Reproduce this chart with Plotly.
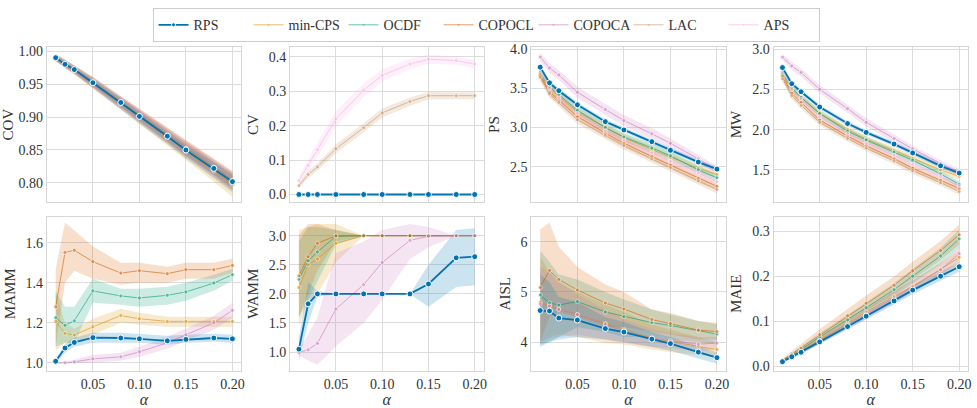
import plotly.graph_objects as go

ALPHA = [0.01, 0.02, 0.03, 0.05, 0.08, 0.10, 0.13, 0.15, 0.18, 0.20]
METHODS = ["RPS", "min-CPS", "OCDF", "COPOCL", "COPOCA", "LAC", "APS"]
COLORS = {"RPS": "#0173b2", "min-CPS": "#de8f05", "OCDF": "#029e73", "COPOCL": "#d55e00",
          "COPOCA": "#cc78bc", "LAC": "#ca9161", "APS": "#fbafe4"}

X_TICKS = [0.05, 0.10, 0.15, 0.20]
X_TICKTEXT = ["0.05", "0.10", "0.15", "0.20"]

# ---- COV ----
COV_MEAN = {
    "RPS":     [0.990, 0.980, 0.972, 0.952, 0.922, 0.901, 0.871, 0.850, 0.822, 0.802],
    "min-CPS": [0.990, 0.980, 0.971, 0.951, 0.920, 0.900, 0.869, 0.848, 0.818, 0.797],
    "OCDF":    [0.990, 0.981, 0.972, 0.952, 0.921, 0.900, 0.870, 0.849, 0.820, 0.800],
    "COPOCL":  [0.991, 0.981, 0.972, 0.953, 0.923, 0.903, 0.873, 0.853, 0.824, 0.804],
    "COPOCA":  [0.990, 0.980, 0.971, 0.951, 0.921, 0.901, 0.871, 0.851, 0.822, 0.802],
    "LAC":     [0.990, 0.981, 0.972, 0.952, 0.922, 0.902, 0.872, 0.852, 0.823, 0.803],
    "APS":     [0.991, 0.981, 0.972, 0.952, 0.922, 0.902, 0.872, 0.851, 0.822, 0.802],
}
COV_ERR = {
    "RPS":     [0.003, 0.004, 0.004, 0.005, 0.006, 0.007, 0.008, 0.008, 0.009, 0.010],
    "min-CPS": [0.005, 0.006, 0.006, 0.008, 0.009, 0.010, 0.012, 0.013, 0.016, 0.018],
    "OCDF":    [0.005, 0.006, 0.006, 0.008, 0.009, 0.010, 0.011, 0.012, 0.013, 0.014],
    "COPOCL":  [0.005, 0.006, 0.006, 0.008, 0.009, 0.010, 0.011, 0.012, 0.013, 0.014],
    "COPOCA":  [0.005, 0.006, 0.006, 0.008, 0.009, 0.010, 0.011, 0.012, 0.013, 0.014],
    "LAC":     [0.005, 0.006, 0.006, 0.008, 0.009, 0.010, 0.011, 0.012, 0.013, 0.014],
    "APS":     [0.005, 0.006, 0.006, 0.008, 0.009, 0.010, 0.011, 0.012, 0.013, 0.014],
}

# ---- CV ----
CV_MEAN = {
    "RPS":     [0, 0, 0, 0, 0, 0, 0, 0, 0, 0],
    "min-CPS": [0, 0, 0, 0, 0, 0, 0, 0, 0, 0],
    "OCDF":    [0, 0, 0, 0, 0, 0, 0, 0, 0, 0],
    "COPOCL":  [0, 0, 0, 0, 0, 0, 0, 0, 0, 0],
    "COPOCA":  [0, 0, 0, 0, 0, 0, 0, 0, 0, 0],
    "LAC":     [0.026, 0.058, 0.080, 0.133, 0.194, 0.237, 0.270, 0.287, 0.287, 0.287],
    "APS":     [0.040, 0.085, 0.130, 0.220, 0.303, 0.346, 0.379, 0.393, 0.389, 0.379],
}
CV_ERR = {
    "RPS":     [0, 0, 0, 0, 0, 0, 0, 0, 0, 0],
    "min-CPS": [0, 0, 0, 0, 0, 0, 0, 0, 0, 0],
    "OCDF":    [0, 0, 0, 0, 0, 0, 0, 0, 0, 0],
    "COPOCL":  [0, 0, 0, 0, 0, 0, 0, 0, 0, 0],
    "COPOCA":  [0, 0, 0, 0, 0, 0, 0, 0, 0, 0],
    "LAC":     [0.008, 0.010, 0.011, 0.013, 0.013, 0.013, 0.012, 0.011, 0.010, 0.010],
    "APS":     [0.012, 0.016, 0.020, 0.022, 0.020, 0.018, 0.015, 0.013, 0.012, 0.012],
}

# ---- PS ----
PS_MEAN = {
    "RPS":     [3.77, 3.57, 3.47, 3.29, 3.075, 2.97, 2.82, 2.71, 2.56, 2.47],
    "min-CPS": [3.68, 3.50, 3.40, 3.20, 3.00, 2.87, 2.72, 2.62, 2.48, 2.40],
    "OCDF":    [3.70, 3.52, 3.42, 3.22, 3.00, 2.88, 2.74, 2.64, 2.46, 2.36],
    "COPOCL":  [3.66, 3.45, 3.35, 3.14, 2.93, 2.80, 2.63, 2.52, 2.35, 2.25],
    "COPOCA":  [3.90, 3.76, 3.67, 3.45, 3.23, 3.09, 2.92, 2.80, 2.60, 2.46],
    "LAC":     [3.64, 3.43, 3.32, 3.10, 2.90, 2.77, 2.60, 2.49, 2.32, 2.21],
    "APS":     [3.72, 3.50, 3.38, 3.18, 2.96, 2.84, 2.68, 2.57, 2.42, 2.31],
}
PS_ERR = {
    "RPS":     [0.03, 0.03, 0.03, 0.03, 0.03, 0.03, 0.03, 0.03, 0.03, 0.03],
    "min-CPS": [0.05, 0.05, 0.05, 0.05, 0.05, 0.05, 0.05, 0.05, 0.05, 0.05],
    "OCDF":    [0.05, 0.05, 0.05, 0.05, 0.05, 0.05, 0.05, 0.05, 0.05, 0.05],
    "COPOCL":  [0.05, 0.05, 0.05, 0.05, 0.05, 0.05, 0.05, 0.05, 0.05, 0.05],
    "COPOCA":  [0.05, 0.06, 0.06, 0.07, 0.07, 0.07, 0.07, 0.06, 0.05, 0.05],
    "LAC":     [0.05, 0.05, 0.05, 0.05, 0.05, 0.05, 0.05, 0.05, 0.05, 0.05],
    "APS":     [0.05, 0.05, 0.05, 0.05, 0.05, 0.05, 0.05, 0.05, 0.05, 0.05],
}

# ---- MW ----
MW_MEAN = {
    "RPS":     [2.77, 2.57, 2.47, 2.28, 2.075, 1.965, 1.82, 1.71, 1.55, 1.46],
    "min-CPS": [2.68, 2.50, 2.40, 2.20, 2.00, 1.88, 1.74, 1.64, 1.50, 1.42],
    "OCDF":    [2.70, 2.52, 2.40, 2.20, 1.98, 1.87, 1.72, 1.62, 1.45, 1.32],
    "COPOCL":  [2.66, 2.45, 2.34, 2.12, 1.92, 1.80, 1.64, 1.52, 1.37, 1.27],
    "COPOCA":  [2.90, 2.79, 2.71, 2.50, 2.26, 2.09, 1.89, 1.76, 1.58, 1.47],
    "LAC":     [2.63, 2.42, 2.30, 2.09, 1.89, 1.77, 1.61, 1.49, 1.34, 1.23],
    "APS":     [2.72, 2.50, 2.38, 2.16, 1.95, 1.83, 1.68, 1.57, 1.42, 1.30],
}
MW_ERR = {
    "RPS":     [0.03, 0.03, 0.03, 0.03, 0.03, 0.03, 0.03, 0.03, 0.03, 0.03],
    "min-CPS": [0.04, 0.04, 0.04, 0.04, 0.04, 0.04, 0.04, 0.04, 0.04, 0.04],
    "OCDF":    [0.04, 0.04, 0.04, 0.04, 0.04, 0.04, 0.04, 0.04, 0.04, 0.04],
    "COPOCL":  [0.04, 0.04, 0.04, 0.04, 0.04, 0.04, 0.04, 0.04, 0.04, 0.04],
    "COPOCA":  [0.04, 0.05, 0.05, 0.05, 0.05, 0.05, 0.05, 0.04, 0.04, 0.04],
    "LAC":     [0.04, 0.04, 0.04, 0.04, 0.04, 0.04, 0.04, 0.04, 0.04, 0.04],
    "APS":     [0.04, 0.04, 0.04, 0.04, 0.04, 0.04, 0.04, 0.04, 0.04, 0.04],
}

# ---- MAMM ----
MAMM_MEAN = {
    "RPS":     [1.008, 1.074, 1.102, 1.126, 1.124, 1.120, 1.110, 1.117, 1.124, 1.120],
    "min-CPS": [1.207, 1.147, 1.139, 1.180, 1.236, 1.220, 1.207, 1.207, 1.207, 1.207],
    "OCDF":    [1.225, 1.187, 1.210, 1.359, 1.334, 1.324, 1.337, 1.354, 1.398, 1.440],
    "COPOCL":  [1.280, 1.551, 1.562, 1.505, 1.448, 1.460, 1.445, 1.465, 1.465, 1.486],
    "COPOCA":  [1.000, 1.000, 1.005, 1.020, 1.030, 1.055, 1.100, 1.140, 1.200, 1.262],
}
MAMM_LO = {
    "RPS":     [1.000, 1.050, 1.080, 1.100, 1.100, 1.100, 1.090, 1.100, 1.105, 1.100],
    "min-CPS": [1.060, 1.100, 1.100, 1.140, 1.200, 1.190, 1.180, 1.180, 1.180, 1.180],
    "OCDF":    [1.080, 1.100, 1.100, 1.300, 1.290, 1.280, 1.290, 1.310, 1.360, 1.410],
    "COPOCL":  [1.080, 1.400, 1.460, 1.420, 1.390, 1.400, 1.400, 1.420, 1.420, 1.450],
    "COPOCA":  [0.995, 0.995, 0.995, 1.000, 1.010, 1.030, 1.070, 1.110, 1.165, 1.225],
}
MAMM_HI = {
    "RPS":     [1.015, 1.095, 1.125, 1.150, 1.150, 1.145, 1.135, 1.140, 1.145, 1.140],
    "min-CPS": [1.350, 1.200, 1.170, 1.220, 1.270, 1.250, 1.230, 1.230, 1.230, 1.230],
    "OCDF":    [1.360, 1.280, 1.280, 1.420, 1.370, 1.370, 1.380, 1.400, 1.440, 1.470],
    "COPOCL":  [1.470, 1.700, 1.660, 1.580, 1.500, 1.500, 1.480, 1.500, 1.500, 1.520],
    "COPOCA":  [1.005, 1.005, 1.015, 1.040, 1.050, 1.080, 1.130, 1.170, 1.235, 1.300],
}

# ---- WAMM ----
WAMM_MEAN = {
    "RPS":     [1.05, 1.83, 2.00, 2.00, 2.00, 2.00, 2.00, 2.17, 2.62, 2.64],
    "min-CPS": [2.11, 2.50, 2.60, 2.87, 3.00, 3.00, 3.00, 3.00, 3.00, 3.00],
    "OCDF":    [2.25, 2.57, 2.72, 2.99, 3.00, 3.00, 3.00, 3.00, 3.00, 3.00],
    "COPOCL":  [2.31, 2.64, 2.87, 3.00, 3.00, 3.00, 3.00, 3.00, 3.00, 3.00],
    "COPOCA":  [0.99, 1.04, 1.15, 1.74, 2.16, 2.54, 2.92, 2.99, 3.00, 3.00],
}
WAMM_LO = {
    "RPS":     [0.85, 1.50, 1.95, 2.00, 2.00, 2.00, 2.00, 1.78, 2.12, 2.15],
    "min-CPS": [1.45, 1.90, 2.00, 2.55, 3.00, 3.00, 3.00, 3.00, 3.00, 3.00],
    "OCDF":    [1.60, 1.90, 2.20, 2.85, 3.00, 3.00, 3.00, 3.00, 3.00, 3.00],
    "COPOCL":  [1.60, 2.00, 2.40, 2.90, 3.00, 3.00, 3.00, 3.00, 3.00, 3.00],
    "COPOCA":  [0.95, 0.85, 0.78, 1.10, 1.50, 1.90, 2.60, 2.80, 3.00, 3.00],
}
WAMM_HI = {
    "RPS":     [1.25, 2.20, 2.05, 2.00, 2.00, 2.00, 2.00, 2.50, 3.10, 3.13],
    "min-CPS": [3.10, 3.15, 3.20, 3.20, 3.00, 3.00, 3.00, 3.00, 3.00, 3.00],
    "OCDF":    [2.90, 3.15, 3.15, 3.10, 3.00, 3.00, 3.00, 3.00, 3.00, 3.00],
    "COPOCL":  [3.00, 3.20, 3.20, 3.10, 3.00, 3.00, 3.00, 3.00, 3.00, 3.00],
    "COPOCA":  [1.05, 1.30, 1.60, 2.70, 2.90, 3.10, 3.20, 3.15, 3.00, 3.00],
}

# ---- AISL ----
AISL_MEAN = {
    "RPS":     [4.63, 4.62, 4.48, 4.44, 4.27, 4.20, 4.06, 3.97, 3.80, 3.69],
    "min-CPS": [4.80, 4.73, 4.66, 4.55, 4.37, 4.25, 4.08, 4.01, 3.92, 3.85],
    "OCDF":    [4.94, 4.78, 4.74, 4.81, 4.60, 4.51, 4.39, 4.33, 4.23, 4.16],
    "COPOCL":  [5.09, 5.43, 5.25, 5.04, 4.78, 4.66, 4.45, 4.37, 4.24, 4.21],
    "COPOCA":  [4.76, 4.72, 4.65, 4.55, 4.35, 4.22, 4.08, 4.03, 3.96, 3.98],
}
AISL_LO = {
    "RPS":     [3.90, 4.00, 4.05, 4.10, 4.05, 4.00, 3.90, 3.83, 3.67, 3.57],
    "min-CPS": [4.00, 4.10, 4.15, 4.10, 3.98, 3.95, 3.85, 3.80, 3.75, 3.70],
    "OCDF":    [3.95, 4.00, 4.10, 4.30, 4.20, 4.10, 4.10, 4.05, 4.00, 3.95],
    "COPOCL":  [4.00, 4.50, 4.60, 4.50, 4.30, 4.30, 4.20, 4.15, 4.05, 4.05],
    "COPOCA":  [3.95, 4.05, 4.10, 4.15, 4.05, 3.98, 3.90, 3.88, 3.82, 3.85],
}
AISL_HI = {
    "RPS":     [5.35, 5.20, 4.90, 4.80, 4.50, 4.40, 4.20, 4.10, 3.92, 3.80],
    "min-CPS": [5.70, 5.40, 5.20, 5.00, 4.75, 4.60, 4.35, 4.25, 4.10, 4.00],
    "OCDF":    [5.82, 5.60, 5.35, 5.25, 5.00, 4.85, 4.65, 4.55, 4.42, 4.36],
    "COPOCL":  [6.25, 6.38, 5.90, 5.50, 5.15, 5.00, 4.65, 4.58, 4.42, 4.38],
    "COPOCA":  [5.50, 5.40, 5.20, 4.95, 4.65, 4.46, 4.26, 4.18, 4.10, 4.10],
}

# ---- MAIE ----
MAIE_MEAN = {
    "RPS":     [0.010, 0.021, 0.031, 0.054, 0.088, 0.111, 0.145, 0.169, 0.200, 0.221],
    "min-CPS": [0.011, 0.022, 0.034, 0.058, 0.095, 0.120, 0.155, 0.178, 0.215, 0.242],
    "OCDF":    [0.012, 0.025, 0.037, 0.065, 0.103, 0.130, 0.170, 0.200, 0.245, 0.283],
    "COPOCL":  [0.013, 0.027, 0.040, 0.070, 0.112, 0.140, 0.180, 0.212, 0.257, 0.292],
    "COPOCA":  [0.010, 0.021, 0.032, 0.056, 0.092, 0.116, 0.152, 0.176, 0.214, 0.250],
}
MAIE_ERR = {
    "RPS":     [0.002, 0.003, 0.004, 0.005, 0.006, 0.007, 0.008, 0.009, 0.010, 0.011],
    "min-CPS": [0.003, 0.004, 0.005, 0.007, 0.009, 0.010, 0.012, 0.013, 0.015, 0.016],
    "OCDF":    [0.003, 0.005, 0.006, 0.008, 0.011, 0.012, 0.014, 0.016, 0.018, 0.020],
    "COPOCL":  [0.004, 0.006, 0.008, 0.012, 0.015, 0.017, 0.019, 0.020, 0.021, 0.022],
    "COPOCA":  [0.003, 0.005, 0.006, 0.008, 0.010, 0.011, 0.012, 0.013, 0.014, 0.015],
}

# ---- axis settings per panel ----
PANEL_TITLES = ["COV", "CV", "PS", "MW", "MAMM", "WAMM", "AISL", "MAIE"]
Y_RANGES = [[0.771, 1.006], [-0.022, 0.428], [2.05, 4.025], [1.10, 3.024],
            [0.961, 1.729], [0.68, 3.326], [3.43, 6.50], [-0.010, 0.332]]
Y_TICKS = [[0.80, 0.85, 0.90, 0.95, 1.00], [0.0, 0.1, 0.2, 0.3, 0.4], [2.5, 3.0, 3.5, 4.0],
           [1.5, 2.0, 2.5, 3.0], [1.0, 1.2, 1.4, 1.6], [1.0, 1.5, 2.0, 2.5, 3.0],
           [4, 5, 6], [0.0, 0.1, 0.2, 0.3]]
Y_TICKTEXT = [["0.80", "0.85", "0.90", "0.95", "1.00"], ["0.0", "0.1", "0.2", "0.3", "0.4"],
              ["2.5", "3.0", "3.5", "4.0"], ["1.5", "2.0", "2.5", "3.0"],
              ["1.0", "1.2", "1.4", "1.6"], ["1.0", "1.5", "2.0", "2.5", "3.0"],
              ["4", "5", "6"], ["0.0", "0.1", "0.2", "0.3"]]


def sym(mean, err):
    lo = {k: [m - e for m, e in zip(mean[k], err[k])] for k in mean}
    hi = {k: [m + e for m, e in zip(mean[k], err[k])] for k in mean}
    return mean, lo, hi


PANELS = [sym(COV_MEAN, COV_ERR), sym(CV_MEAN, CV_ERR), sym(PS_MEAN, PS_ERR), sym(MW_MEAN, MW_ERR),
          (MAMM_MEAN, MAMM_LO, MAMM_HI), (WAMM_MEAN, WAMM_LO, WAMM_HI),
          (AISL_MEAN, AISL_LO, AISL_HI), sym(MAIE_MEAN, MAIE_ERR)]

W, H = 977, 408
COL_PX = [(47, 242), (291, 485), (533, 728), (776, 971)]
ROW_PX = [(43, 201), (216, 373)]


def rgba(hexc, a):
    h = hexc.lstrip("#")
    return "rgba(%d,%d,%d,%.3f)" % (int(h[0:2], 16), int(h[2:4], 16), int(h[4:6], 16), a)


FONT = "Liberation Serif, DejaVu Serif, serif"
TXT = "#333333"
fig = go.Figure()

for i, (mean, lo, hi) in enumerate(PANELS):
    ax = "" if i == 0 else str(i + 1)
    xref, yref = "x" + ax, "y" + ax
    order = [m for m in METHODS if m in mean and m != "RPS"] + ["RPS"]
    for m in order:
        c = COLORS[m]
        fig.add_trace(go.Scatter(x=ALPHA + ALPHA[::-1], y=hi[m] + lo[m][::-1], fill="toself",
                                 fillcolor=rgba(c, 0.2), line=dict(width=0), mode="lines",
                                 hoverinfo="skip", showlegend=False, xaxis=xref, yaxis=yref))
    for m in order:
        c = COLORS[m]
        if m == "RPS":
            line = dict(color=c, width=1.8)
            marker = dict(size=6, color=c, line=dict(color="white", width=1))
            op = 1.0
        else:
            line = dict(color=c, width=1.0)
            marker = dict(size=4, color=c, line=dict(color="white", width=0.8))
            op = 0.6
        fig.add_trace(go.Scatter(x=ALPHA, y=mean[m], mode="lines+markers", name=m,
                                 line=line, marker=marker, opacity=op,
                                 showlegend=False, xaxis=xref, yaxis=yref))

for m in METHODS:
    c = COLORS[m]
    if m == "RPS":
        line = dict(color=c, width=1.8); marker = dict(size=4, color=c, line=dict(color="white", width=1)); op = 1
    else:
        line = dict(color=c, width=1.0); marker = dict(size=2, color=c); op = 0.6
    fig.add_trace(go.Scatter(x=[None], y=[None], mode="lines+markers", name=m, line=line,
                             marker=marker, opacity=op, showlegend=True, xaxis="x", yaxis="y"))

layout = dict(
    width=W, height=H, margin=dict(l=0, r=0, t=0, b=0),
    paper_bgcolor="white", plot_bgcolor="white",
    font=dict(family=FONT, size=12, color=TXT),
    legend=dict(orientation="h", x=0.499, xanchor="center", y=0.992, yanchor="top",
                bordercolor="#cccccc", borderwidth=1, bgcolor="white",
                font=dict(family=FONT, size=14, color=TXT), itemwidth=30,
                entrywidth=50, tracegroupgap=0),
)
for i in range(8):
    r, c = divmod(i, 4)
    ax = "" if i == 0 else str(i + 1)
    x0, x1 = COL_PX[c]
    y0, y1 = ROW_PX[r]
    xa = dict(domain=[x0 / W, x1 / W], anchor="y" + ax, range=[0.0005, 0.2095],
              tickvals=X_TICKS, ticktext=X_TICKTEXT, showticklabels=(r == 1),
              showgrid=True, gridcolor="#dcdcdc", gridwidth=1, zeroline=False,
              showline=True, mirror=True, linecolor="#d6d6d6", linewidth=1.2,
              ticks="", tickfont=dict(family=FONT, size=14, color=TXT))
    if r == 1:
        xa["title"] = dict(text="<i>α</i>", font=dict(family=FONT, size=16, color=TXT), standoff=2)
    ya = dict(domain=[1 - y1 / H, 1 - y0 / H], anchor="x" + ax, range=Y_RANGES[i],
              tickvals=Y_TICKS[i], ticktext=Y_TICKTEXT[i],
              showgrid=True, gridcolor="#dcdcdc", gridwidth=1, zeroline=False,
              showline=True, mirror=True, linecolor="#d6d6d6", linewidth=1.2,
              ticks="", tickfont=dict(family=FONT, size=14, color=TXT),
              title=dict(text=PANEL_TITLES[i], font=dict(family=FONT, size=15, color=TXT), standoff=6))
    layout["xaxis" + ax] = xa
    layout["yaxis" + ax] = ya

fig.update_layout(**layout)
fig.write_html("out.html")
